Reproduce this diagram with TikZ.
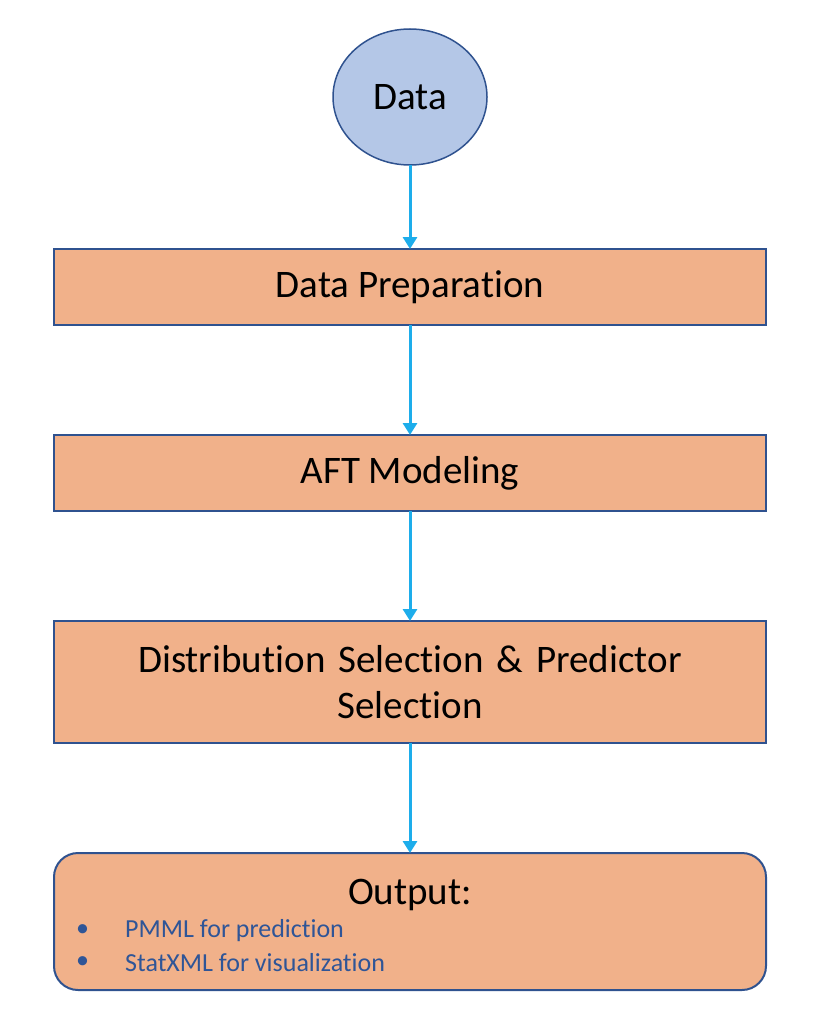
\documentclass[tikz,border=0pt]{standalone}
\usepackage{fontspec}
\setmainfont{Carlito}[Ligatures=NoCommon]
\usetikzlibrary{arrows.meta,positioning,shapes.geometric}
\definecolor{boxfill}{HTML}{F1B18A}
\definecolor{datafill}{HTML}{B4C7E7}
\definecolor{edge}{HTML}{2F528F}
\definecolor{arrowblue}{HTML}{1DADEB}
\definecolor{itemblue}{HTML}{2F5597}

\begin{document}
\begin{tikzpicture}[
  x=1pt, y=1pt, font=\fontsize{39}{46}\selectfont,
  bx/.style={draw=edge,fill=boxfill,line width=2pt,align=center,
             minimum width=712pt,inner sep=0pt,outer sep=0pt},
  dat/.style={ellipse,draw=edge,fill=datafill,line width=1.5pt,outer sep=0pt,
              minimum width=154pt,minimum height=136pt,inner sep=0pt},
  itm/.style={text=itemblue,font=\fontsize{26}{30}\selectfont,inner sep=0pt,
              anchor=west},
  ar/.style={-{Triangle[length=12pt,width=14pt]},draw=arrowblue,line width=3pt}]
\useasboundingbox (0,0) rectangle (818,-1032);
\node[dat] (data) at (410,-97) {Data};
\node[bx,minimum height=76pt,below=84pt of data] (prep) {Data Preparation};
\node[bx,minimum height=76pt,below=110pt of prep] (aft) {AFT Modeling};
\node[bx,minimum height=122pt,below=110pt of aft,text width=636pt]
  (sel) {Distribution Selection \& Predictor\\ Selection};
\node[bx,minimum height=137pt,rounded corners=24pt,below=110pt of sel] (out) {};
\node[below=26pt of out.north,inner sep=0pt] (outt) {Output:};
\node[itm] (b1) at ([xshift=22pt,yshift=-78pt]out.north west) {\textbullet};
\node[itm] (i1) at ([xshift=49pt]b1.west) {PMML for prediction};
\node[itm] (b2) at ([yshift=-32pt]b1.west) {\textbullet};
\node[itm] (i2) at ([xshift=49pt]b2.west) {StatXML for visualization};
\draw[ar] (data) -- (prep);
\draw[ar] (prep) -- (aft);
\draw[ar] (aft) -- (sel);
\draw[ar] (sel) -- (out);
\end{tikzpicture}
\end{document}
